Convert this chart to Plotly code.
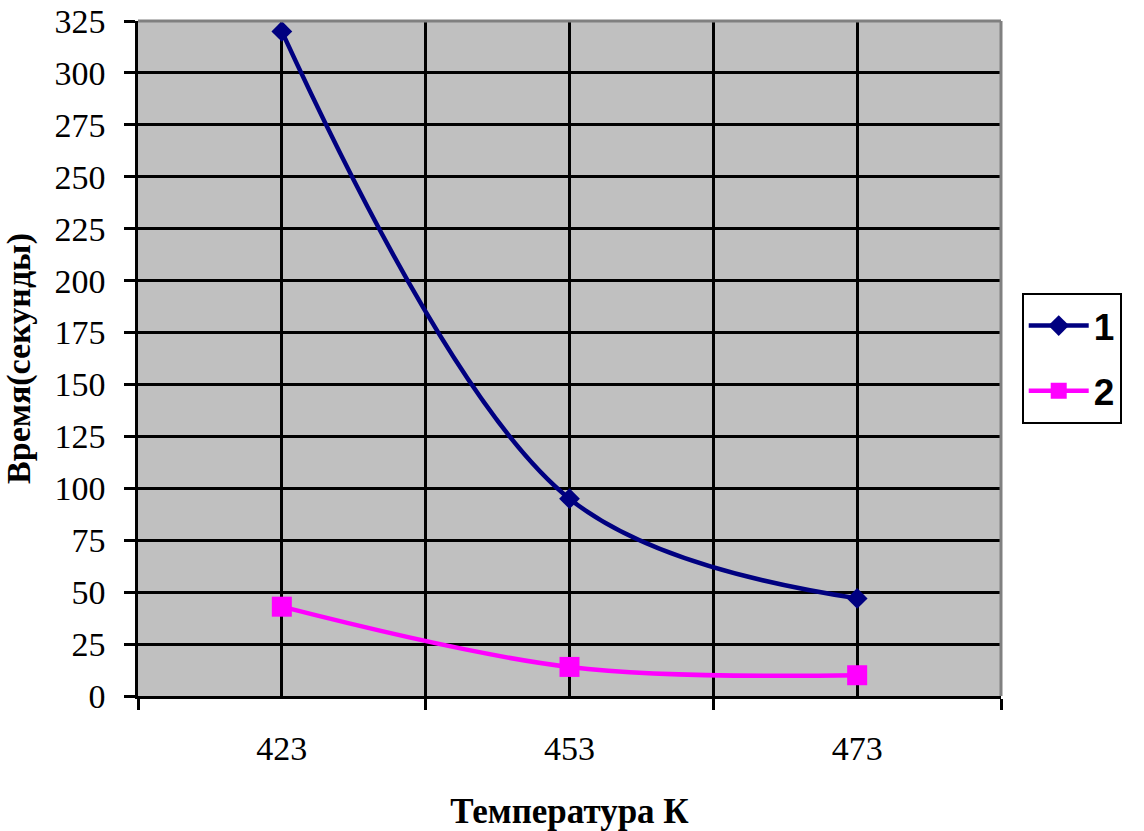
import plotly.graph_objects as go

categories = ["423", "453", "473"]
series1 = [320, 95, 47]
series2 = [43, 14, 10]
y_ticks = list(range(0, 326, 25))

xpos = list(range(len(categories)))

fig = go.Figure()
fig.add_trace(go.Scatter(
    x=xpos, y=series1, name="1", mode="lines+markers",
    line=dict(color="#000080", width=4.5, shape="spline", smoothing=1),
    marker=dict(symbol="diamond", size=16, color="#000080"),
    legendgroup="a",
))
fig.add_trace(go.Scatter(
    x=xpos, y=series2, name="2", mode="lines+markers",
    line=dict(color="#FF00FF", width=4.5, shape="spline", smoothing=1),
    marker=dict(symbol="square", size=20, color="#FF00FF"),
    legendgroup="b",
))

fig.update_layout(
    width=1144, height=831,
    margin=dict(l=138, r=143, t=21, b=135, autoexpand=False),
    paper_bgcolor="white",
    plot_bgcolor="#C0C0C0",
    font=dict(family="Liberation Serif", color="black"),
    showlegend=True,
    legend=dict(
        x=1.024, y=0.5, xanchor="left", yanchor="middle",
        bordercolor="black", borderwidth=2, bgcolor="white",
        font=dict(family="Liberation Sans", size=37, color="black", weight="bold"),
        tracegroupgap=14,
        itemwidth=60,
    ),
    xaxis=dict(
        range=[-0.5, 2.5], automargin=False,
        tickmode="array", tickvals=xpos, ticktext=categories,
        ticks="", showgrid=True, gridcolor="black", gridwidth=2.5,
        tickfont=dict(family="Liberation Serif", size=34, color="black"),
        ticklabelstandoff=20,
        showline=True, linecolor="black", linewidth=2.5,
        zeroline=False,
        minor=dict(tickmode="array", tickvals=[-0.5, 0.5, 1.5, 2.5],
                   ticks="outside", ticklen=11, tickwidth=2.5, tickcolor="black",
                   showgrid=True, gridcolor="black", gridwidth=2.5),
        title=dict(text="Температура К", standoff=46,
                   font=dict(family="Liberation Serif", size=35, color="black", weight="bold")),
    ),
    yaxis=dict(
        range=[0, 325], automargin=False,
        tickmode="array", tickvals=y_ticks,
        ticks="outside", ticklen=11, tickwidth=2.5, tickcolor="black",
        ticklabelstandoff=12,
        showgrid=True, gridcolor="black", gridwidth=2.5,
        tickfont=dict(family="Liberation Serif", size=34, color="black"),
        showline=True, linecolor="black", linewidth=2.5,
        zeroline=False,
        title=dict(text="Время(секунды)", standoff=14,
                   font=dict(family="Liberation Serif", size=34, color="black", weight="bold")),
    ),
    shapes=[
        dict(type="line", xref="paper", yref="paper", x0=0, x1=1, y0=1, y1=1,
             line=dict(color="#808080", width=3), layer="above"),
        dict(type="line", xref="paper", yref="paper", x0=1, x1=1, y0=0, y1=1,
             line=dict(color="#808080", width=3), layer="above"),
    ],
)

fig.write_html("out.html")
